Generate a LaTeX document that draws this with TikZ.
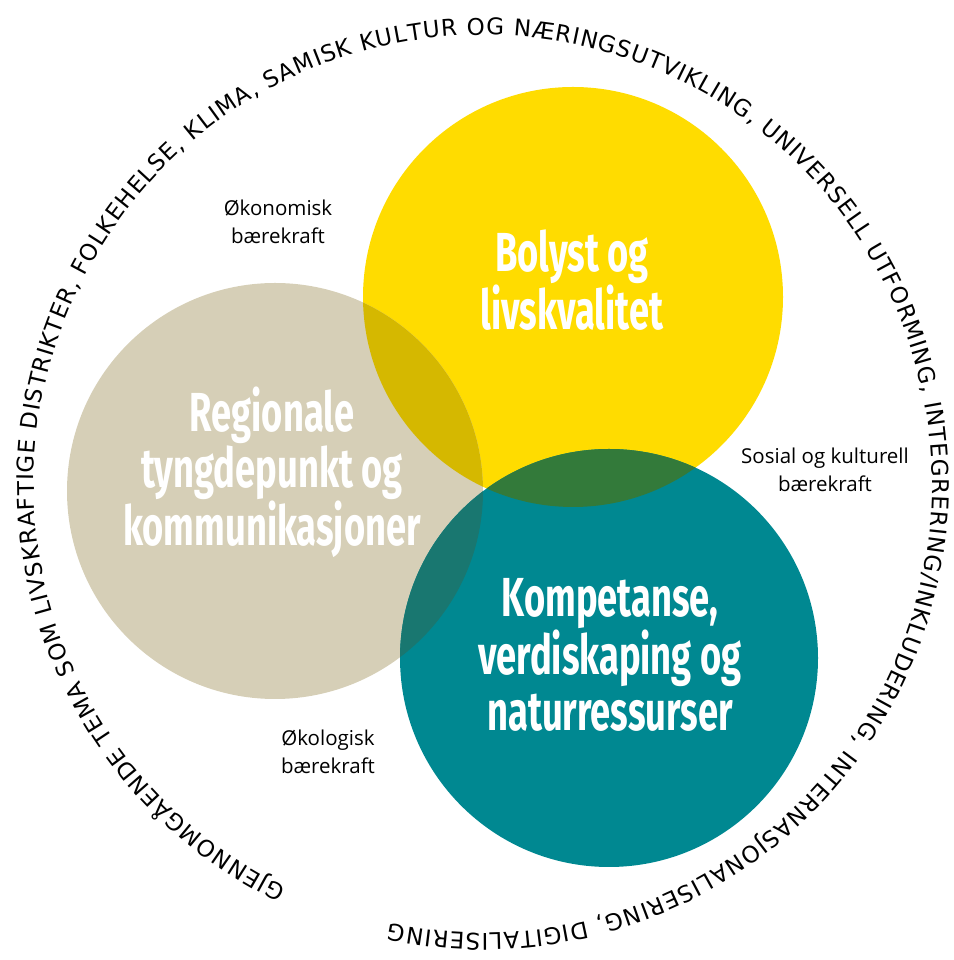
\documentclass[tikz,border=0pt]{standalone}
\usepackage{fontspec}
\setmainfont{Open Sans}
\newfontfamily\titlefont[FakeStretch=0.66]{Fira Sans}
\newfontfamily\ringfont{DejaVu Sans}
\usetikzlibrary{decorations.text}
\definecolor{gul}{HTML}{FFDC00}
\definecolor{sand}{HTML}{D6CFB7}
\definecolor{petrol}{HTML}{008891}
\definecolor{oliven}{HTML}{D5B800}
\definecolor{skoggronn}{HTML}{337A3A}
\definecolor{morkpetrol}{HTML}{197770}

\begin{document}
\begin{tikzpicture}[x=1pt, y=1pt,
		tema/.style={font=\titlefont\bfseries\fontsize{55}{56}\selectfont, text=white, align=center, inner sep=0pt},
		baerekraft/.style={font=\fontsize{20.5}{28}\selectfont, align=center, inner sep=0pt}]
		%%%%% START %%%%%
		\useasboundingbox (0, 0) rectangle (953, 960);
		
		\coordinate (midt) at (483, 476);
		\coordinate (bolyst) at (573, 663);
		\coordinate (region) at (275, 469);
		\coordinate (komp) at (609, 302);
		
		\fill[gul] (bolyst) circle (210);
		\fill[sand] (region) circle (208);
		\fill[petrol] (komp) circle (209);
		
		% overlapp
		\begin{scope}
			\clip (bolyst) circle (210);
			\fill[oliven] (region) circle (208);
			\fill[skoggronn] (komp) circle (209);
		\end{scope}
		\begin{scope}
			\clip (region) circle (208);
			\fill[morkpetrol] (komp) circle (209);
		\end{scope}
		
		\node[tema] (bolysttekst) at (572, 680) {Bolyst og\\livskvalitet};
		\node[tema] (regiontekst) at (272, 488) {Regionale\\tyngdepunkt og\\kommunikasjoner};
		\node[tema] (komptekst) at (610, 305) {Kompetanse,\\verdiskaping og\\naturressurser};
		
		\node[baerekraft] (okonomisk) at (278, 738) {Økonomisk\\bærekraft};
		\node[baerekraft] (sosial) at (825, 490) {Sosial og kulturell\\bærekraft};
		\node[baerekraft] (okologisk) at (328, 208) {Økologisk\\bærekraft};
		
		% tekst i ringen
		\path[shift={(midt)}, decorate, decoration={text along path, text align={fit to path},
			text={|\ringfont\fontsize{23}{27}\selectfont|GJENNOMGÅENDE TEMA SOM LIVSKRAFTIGE DISTRIKTER, FOLKEHELSE, KLIMA, SAMISK KULTUR OG NÆRINGSUTVIKLING, UNIVERSELL UTFORMING, INTEGRERING/INKLUDERING, INTERNASJONALISERING, DIGITALISERING}}]
			(244:449) arc[start angle=244, end angle=-102, radius=449];
		
		%%%%% END %%%%%
\end{tikzpicture}
\end{document}
